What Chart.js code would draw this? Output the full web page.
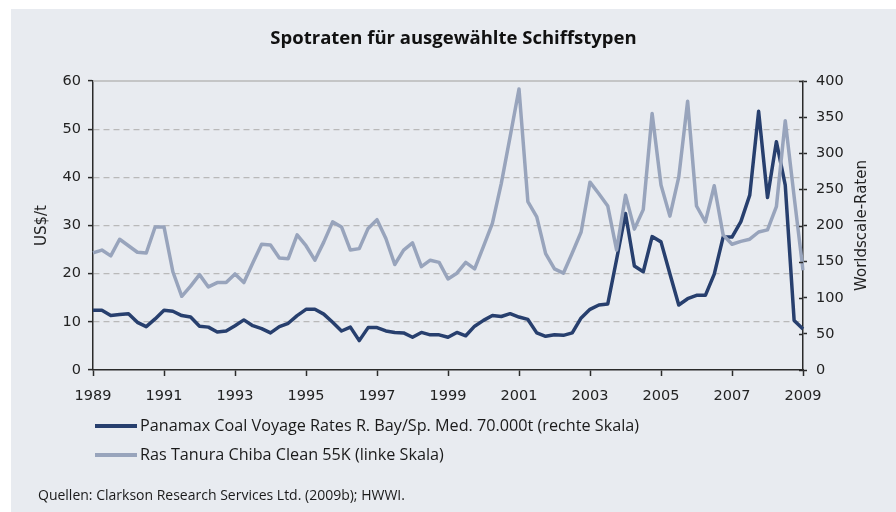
<!DOCTYPE html>
<html>
<head>
<meta charset="utf-8">
<script src="https://cdn.jsdelivr.net/npm/chart.js@4.4.1/dist/chart.umd.min.js"></script>
<style>
  html, body { margin: 0; padding: 0; background: #fff; }
  #wrap { position: relative; width: 896px; height: 512px; overflow: hidden; }
  #panel { position: absolute; left: 11px; top: 9px; right: 0; bottom: 0; background: #e8ebf0; }
  canvas { position: absolute; left: 0; top: 0; }
  #title { position: absolute; left: 0; width: 907px; top: 24px; text-align: center; font-family: "Open Sans"; font-weight: bold; font-size: 18.5px; color: #111; white-space: nowrap; }
  .leg { position: absolute; left: 95px; font-family: "Open Sans"; font-size: 16.2px; color: #1a1a1a; white-space: nowrap; line-height: 20px; }
  .leg i { display: inline-block; width: 42px; height: 4px; vertical-align: middle; margin-right: 3px; position: relative; top: -1px; }
  #src { position: absolute; left: 38px; top: 485px; font-family: "Open Sans"; font-size: 14px; color: #1a1a1a; white-space: nowrap; }
</style>
</head>
<body>
<div id="wrap">
  <div id="panel"></div>
  <canvas id="c" width="896" height="512"></canvas>
  <div id="title">Spotraten für ausgewählte Schiffstypen</div>
  <div id="legend"></div>
  <div id="src">Quellen: Clarkson Research Services Ltd. (2009b); HWWI.</div>
</div>
<script>
const firstYear = 1989;
const lastYear = 2009;
const tickYears = ["1989","1991","1993","1995","1997","1999","2001","2003","2005","2007","2009"];

// quarterly categories, 1989 Q1 .. 2009 Q1
const quarters = [];
for (let y = firstYear; y <= lastYear; y++) {
  for (let q = 1; q <= 4; q++) {
    if (y === lastYear && q > 1) break;
    quarters.push(y + " Q" + q);
  }
}

// US$/t
const panamaxCoal = [
  12.4, 12.4, 11.3, 11.5, 11.7, 9.9, 9.0, 10.6,
  12.4, 12.2, 11.3, 11.0, 9.1, 8.9, 7.9, 8.1,
  9.2, 10.4, 9.2, 8.6, 7.7, 9.0, 9.7, 11.3,
  12.6, 12.6, 11.6, 9.9, 8.1, 8.9, 6.1, 8.8,
  8.8, 8.1, 7.8, 7.7, 6.8, 7.8, 7.3, 7.3,
  6.8, 7.8, 7.1, 9.1, 10.3, 11.3, 11.1, 11.7,
  11.0, 10.5, 7.7, 7.0, 7.3, 7.2, 7.7, 10.8,
  12.6, 13.5, 13.7, 23.0, 32.5, 21.6, 20.4, 27.7,
  26.6, 20.0, 13.5, 14.8, 15.5, 15.5, 19.9, 27.6,
  27.6, 30.8, 36.3, 53.7, 35.8, 47.4, 38.4, 10.3,
  8.5
];

// Worldscale
const rasTanura = [
  162, 166, 158, 181, 172, 163, 162, 198,
  198, 136, 102, 116, 132, 115, 121, 121,
  133, 121, 148, 174, 173, 155, 154, 187,
  172, 152, 177, 205, 198, 166, 168, 196,
  208, 182, 146, 166, 176, 143, 152, 149,
  126, 134, 149, 140, 171, 203, 258, 323,
  389, 233, 212, 161, 140, 134, 162, 191,
  260, 244, 227, 166, 242, 195, 222, 355,
  256, 213, 267, 372, 227, 205, 255, 187,
  174, 178, 181, 191, 194, 226, 345, 240,
  138
];

const seriesNames = [
  "Panamax Coal Voyage Rates R. Bay/Sp. Med. 70.000t (rechte Skala)",
  "Ras Tanura Chiba Clean 55K (linke Skala)"
];
const seriesColors = ["#273f6e", "#98a4bc"];

const tickFont = { family: "DejaVu Sans", size: 14.5 };
const axisColor = "#2a2a2a";

const extras = {
  id: "extras",
  afterDraw(chart) {
    const { ctx, chartArea } = chart;
    const y1 = chart.scales.y1;
    ctx.save();
    // solid top line
    ctx.strokeStyle = "#b9b9b9";
    ctx.lineWidth = 1.5;
    ctx.beginPath();
    ctx.moveTo(chartArea.left, chartArea.top);
    ctx.lineTo(chartArea.right, chartArea.top);
    ctx.stroke();
    // inner half of right ticks
    ctx.strokeStyle = axisColor;
    ctx.lineWidth = 1.5;
    y1.ticks.forEach(t => {
      const py = Math.round(y1.getPixelForValue(t.value)) + 0.5;
      ctx.beginPath();
      ctx.moveTo(chartArea.right - 4, py);
      ctx.lineTo(chartArea.right, py);
      ctx.stroke();
    });
    // axis titles
    ctx.fillStyle = "#222";
    ctx.font = "15px 'DejaVu Sans'";
    ctx.textAlign = "center";
    ctx.textBaseline = "middle";
    const midY = (chartArea.top + chartArea.bottom) / 2;
    [[42, "US$/t"], [862, "Worldscale-Raten"]].forEach(([x, txt]) => {
      ctx.save();
      ctx.translate(x, midY);
      ctx.rotate(-Math.PI / 2);
      ctx.fillText(txt, 0, 0);
      ctx.restore();
    });
    ctx.restore();
  }
};

new Chart(document.getElementById("c"), {
  type: "line",
  data: {
    labels: quarters,
    datasets: [
      {
        label: seriesNames[0],
        data: panamaxCoal,
        yAxisID: "y",
        borderColor: seriesColors[0],
        borderWidth: 3.5,
        pointRadius: 0,
        tension: 0,
        borderJoinStyle: "round",
        order: 2
      },
      {
        label: seriesNames[1],
        data: rasTanura,
        yAxisID: "y1",
        borderColor: seriesColors[1],
        borderWidth: 3.5,
        pointRadius: 0,
        tension: 0,
        borderJoinStyle: "round",
        order: 1
      }
    ]
  },
  options: {
    responsive: false,
    animation: false,
    layout: { padding: { left: 0, right: 0, top: 81, bottom: 102 } },
    plugins: {
      legend: { display: false },
      tooltip: { enabled: false },
      title: { display: false }
    },
    scales: {
      x: {
        type: "category",
        offset: false,
        afterFit: s => { s.height = 40; },
        grid: {
          drawOnChartArea: false,
          tickLength: 6,
          tickWidth: 1.5,
          tickColor: c => (c.index % 8 === 0 ? axisColor : "transparent")
        },
        border: { color: axisColor, width: 1.5 },
        ticks: {
          autoSkip: false,
          maxRotation: 0,
          padding: 12,
          color: "#222",
          font: tickFont,
          callback: (v, i) => (i % 8 === 0 ? tickYears[i / 8] : "")
        }
      },
      y: {
        position: "left",
        min: 0,
        max: 60,
        afterFit: s => { s.width = 93; },
        ticks: { stepSize: 10, padding: 7, color: "#222", font: tickFont },
        grid: {
          color: c => (c.tick.value === 0 || c.tick.value === 60 ? "transparent" : "#b9b9b9"),
          lineWidth: 1.2,
          tickLength: 5,
          tickWidth: 1.5,
          tickColor: axisColor
        },
        border: { color: axisColor, width: 1.5, dash: [6, 4] }
      },
      y1: {
        position: "right",
        min: 0,
        max: 400,
        afterFit: s => { s.width = 93; },
        ticks: { stepSize: 50, padding: 9, color: "#222", font: tickFont },
        grid: {
          drawOnChartArea: false,
          tickLength: 4,
          tickWidth: 1.5,
          tickColor: axisColor
        },
        border: { color: axisColor, width: 1.5 }
      }
    }
  },
  plugins: [extras]
});

// legend
const legend = document.getElementById("legend");
[415, 444].forEach((top, i) => {
  const d = document.createElement("div");
  d.className = "leg";
  d.style.top = top + "px";
  const sw = document.createElement("i");
  sw.style.background = seriesColors[i];
  d.appendChild(sw);
  d.appendChild(document.createTextNode(seriesNames[i]));
  legend.appendChild(d);
});
</script>
</body>
</html>
